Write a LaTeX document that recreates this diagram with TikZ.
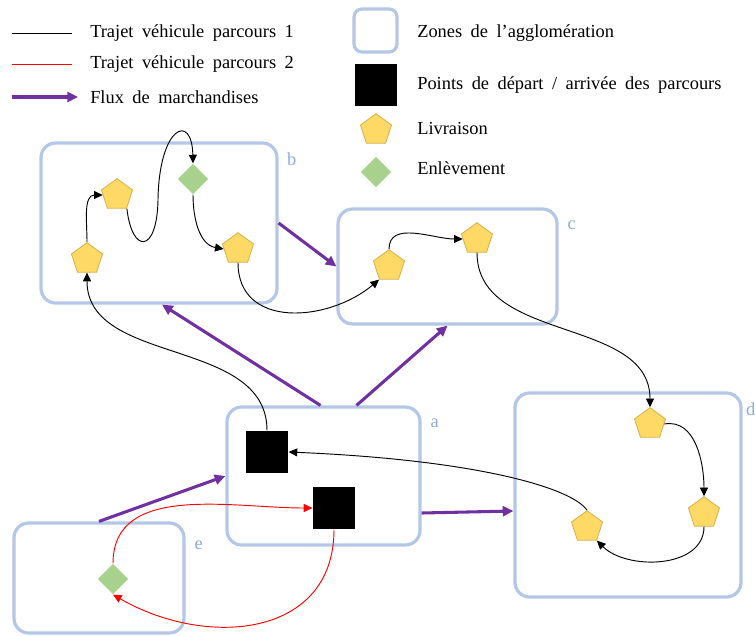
\documentclass[tikz,border=0pt]{standalone}
\usepackage{fontspec}
\setmainfont{Liberation Serif}
\usetikzlibrary{arrows.meta, positioning, calc, fit, shapes.geometric}
\definecolor{zoneblue}{HTML}{B4C7E7}
\definecolor{zonetext}{HTML}{8FAADC}
\definecolor{fluxpurple}{HTML}{7030A0}
\definecolor{livfill}{HTML}{FFD966}
\definecolor{livdraw}{HTML}{D6B04A}
\definecolor{enlfill}{HTML}{A9D18E}
\newcommand{\diagfont}{\fontsize{13.8}{16}\selectfont\spaceskip=0.46em\relax}

\begin{document}
\begin{tikzpicture}[
		x=0.75pt, y=-0.75pt,
		font=\diagfont,
		zone/.style={draw=zoneblue, line width=2.4pt, rounded corners=11pt, inner sep=0pt},
		zonelab/.style={text=zonetext, inner sep=0pt},
		depot/.style={fill=black, minimum size=32pt, inner sep=0pt},
		livraison/.style={regular polygon, regular polygon sides=5, fill=livfill, draw=livdraw, line width=0.6pt, minimum size=24.5pt, inner sep=0pt},
		enlevement/.style={diamond, fill=enlfill, minimum size=23pt, inner sep=0pt},
		trajet/.style={-{Triangle[length=6.5pt,width=6pt]}, line width=0.7pt},
		trajetrouge/.style={trajet, red},
		flux/.style={-{Triangle[length=8pt,width=7.5pt]}, fluxpurple, line width=2.3pt},
		leg/.style={anchor=west, inner sep=0pt}
		]
		
		\useasboundingbox (0,0) rectangle (756,635);
		
		% Legend
		\draw[line width=0.7pt] (12,33) -- (72,33);
		\node[leg] (lt1) at (90,33) {Trajet véhicule parcours 1};
		\draw[line width=0.7pt, red] (12,64) -- (72,64);
		\node[leg] (lt2) at (90,64) {Trajet véhicule parcours 2};
		\draw[flux] (12,97) -- (78,97);
		\node[leg] (lfl) at (90,97) {Flux de marchandises};
		
		\draw[zone, rounded corners=6pt] (354,9) rectangle (397,52);
		\node[leg] (lzo) at (417,33) {Zones de l’agglomération};
		\node[depot] (ldp) at (376,85) {};
		\node[leg] (ldt) at (417,85) {Points de départ / arrivée des parcours};
		\node[livraison] (llv) at (376,130) {};
		\node[leg] (llt) at (417,128) {Livraison};
		\node[enlevement] (len) at (376,172) {};
		\node[leg] (let) at (417,168) {Enlèvement};
		
		% Zones
		\node[zone, fit={(227,407) (420,545)}] (za) {};
		\node[zone, fit={(41,143) (277,303)}] (zb) {};
		\node[zone, fit={(338,209) (557,324)}] (zc) {};
		\node[zone, fit={(515,393) (741,597)}] (zd) {};
		\node[zone, fit={(14,523) (184,633)}] (ze) {};
		
		\node[zonelab] at ($(za.north east)+(13,18)$) {a};
		\node[zonelab] at ($(zb.north east)+(13,18)$) {b};
		\node[zonelab] at ($(zc.north east)+(13,18)$) {c};
		\node[zonelab] at ($(zd.north east)+(8,18)$) {d};
		\node[zonelab] at ($(ze.north east)+(13,24)$) {e};
		
		% Zone a : departure / arrival points
		\node[depot] (dep1) at (267,452) {};
		\node[depot] (dep2) at (334,508) {};
		
		% Zone b
		\node[livraison] (pb1) at (87,259) {};
		\node[livraison] (pb2) at (117,195) {};
		\node[enlevement] (eb) at (193,179) {};
		\node[livraison] (pb3) at (238,249) {};
		
		% Zone c
		\node[livraison] (pc1) at (389,266) {};
		\node[livraison] (pc2) at (477,239) {};
		
		% Zone d
		\node[livraison] (pd1) at (650,424) {};
		\node[livraison] (pd2) at (704,513) {};
		\node[livraison] (pd3) at (587,527) {};
		
		% Zone e
		\node[enlevement] (ee) at (113,579) {};
		
		% Flux de marchandises
		\draw[flux] (zb.east) -- (zc.west);
		\draw[flux] ($(za.north)+(-3,0)$) -- ($(zb.south)+(3,0)$);
		\draw[flux] ($(za.north)+(33,0)$) -- (zc.south);
		\draw[flux] (ze.north) -- (za.west);
		\draw[flux] ($(za.east)+(0,37)$) -- ($(zd.west)+(0,16)$);
		
		% Parcours 1
		\draw[trajet] (dep1.north) to[out=90, in=-90] (pb1.south);
		\draw[trajet] (pb1.north) to[out=90, in=180] (pb2.west);
		\draw[trajet] (pb2.corner 4) .. controls (132,254) and (157,254) .. (158,200)
			.. controls (159,126) and (192,112) .. (eb.north);
		\draw[trajet] (eb.south) to[out=-90, in=170] (pb3.west);
		\draw[trajet] (pb3.south) to[out=-90, in=-140, looseness=1.2] (pc1.corner 3);
		\draw[trajet] (pc1.north) to[out=90, in=180] (pc2.west);
		\draw[trajet] (pc2.south) to[out=-90, in=90] (pd1.north);
		\draw[trajet] (pd1.east) to[out=10, in=90] (pd2.north);
		\draw[trajet] (pd2.south) to[out=-90, in=-45] (pd3.corner 4);
		\draw[trajet] (pd3.north) .. controls +(-15,-22) and +(190,8) .. (dep1.east);
		
		% Parcours 2
		\draw[trajetrouge] (dep2.south) to[out=-90, in=-30, looseness=1.2] (ee.south);
		\draw[trajetrouge] (ee.north) to[out=90, in=180] (dep2.west);
		
	\end{tikzpicture}
\end{document}
